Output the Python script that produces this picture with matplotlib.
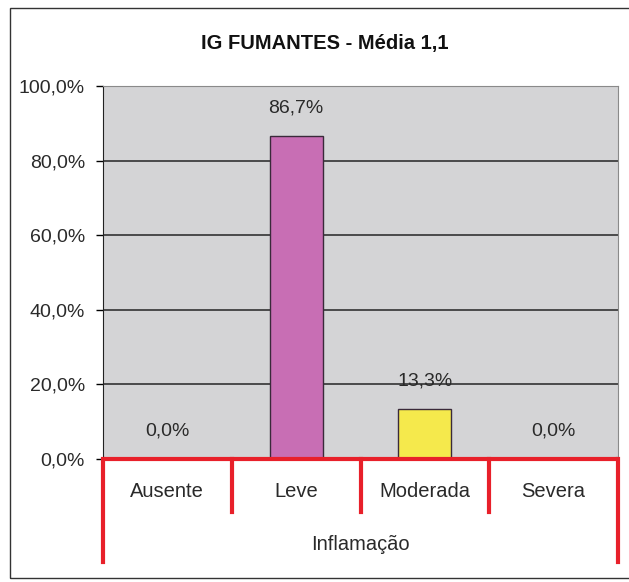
import matplotlib.pyplot as plt
import matplotlib.transforms as mtransforms
from matplotlib.patches import Rectangle

categorias = ['Ausente', 'Leve', 'Moderada', 'Severa']
percentuais = [0.0, 86.7, 13.3, 0.0]
cores = ['#c86eb4', '#c86eb4', '#f5e94c', '#f5e94c']
yticks = [0, 20, 40, 60, 80, 100]

plt.rcParams['font.family'] = ['Liberation Sans', 'DejaVu Sans']

W, H = 629, 582
fig = plt.figure(figsize=(W / 100, H / 100), dpi=100)
fig.patch.set_facecolor('white')

# moldura externa do grafico
fig.patches.append(Rectangle((10 / W, 4 / H), 700 / W, (H - 12) / H,
                             transform=fig.transFigure, fill=False,
                             edgecolor='#333333', linewidth=1.0))

ax = fig.add_axes([103 / W, (H - 459) / H, 515 / W, 373 / H])
ax.set_facecolor('#d4d4d6')

x = range(len(categorias))
ax.bar(x, percentuais, width=0.41, color=cores, edgecolor='#3a2a3a',
       linewidth=1.0, zorder=3)

for i, v in enumerate(percentuais):
    ax.text(i, v + 7.5, f'{v:.1f}%'.replace('.', ','), ha='center', va='center',
            fontsize=14, color='#2a2a2a', zorder=4)

ax.set_xlim(-0.5, 3.5)
ax.set_ylim(0, 100)
ax.set_yticks(yticks)
ax.set_yticklabels([f'{t:.1f}%'.replace('.', ',') for t in yticks],
                   fontsize=14, color='#2a2a2a')
ax.tick_params(axis='y', length=5, width=1, pad=8)
ax.set_xticks([])
ax.yaxis.grid(True, color='#333333', linewidth=1.2, zorder=1)
ax.set_axisbelow(True)
for s in ['top', 'right']:
    ax.spines[s].set_color('#8a8a8a')
ax.spines['left'].set_color('#222222')
ax.spines['bottom'].set_visible(False)

# eixo de categorias em vermelho
trans = mtransforms.blended_transform_factory(ax.transData, ax.transAxes)
vermelho = '#e8202a'
ax.plot([-0.5, 3.5], [0, 0], color=vermelho, linewidth=3, transform=trans,
        clip_on=False, zorder=5, solid_capstyle='butt')
for sep in [-0.5, 0.5, 1.5, 2.5, 3.5]:
    baixo = -0.276 if sep in (-0.5, 3.5) else -0.142
    ax.plot([sep, sep], [0, baixo], color=vermelho, linewidth=3,
            transform=trans, clip_on=False, zorder=5)
for i, c in enumerate(categorias):
    ax.text(i, -0.088, c, ha='center', va='center', fontsize=14.5,
            color='#2a2a2a', transform=trans)
ax.text(1.5, -0.228, 'Inflamação', ha='center', va='center', fontsize=14.5,
        color='#2a2a2a', transform=trans)

fig.text(325 / W, 1 - 43 / H, 'IG FUMANTES - Média 1,1',
         ha='center', va='center', fontsize=14.5, fontweight='bold',
         color='#111111')

fig.savefig('out.png', dpi=100)
